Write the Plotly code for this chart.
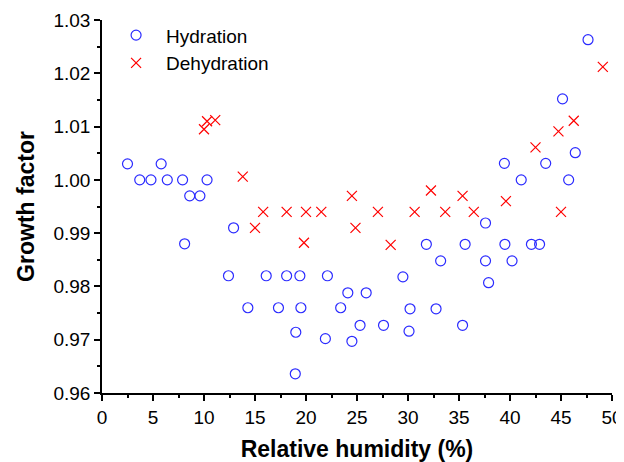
import plotly.graph_objects as go

# Hydration series
hyd_rh = [2.5, 3.7, 4.8, 5.8, 6.4, 7.9, 8.1, 8.6, 9.6, 10.3,
          12.4, 12.9, 14.3, 16.1, 17.3, 18.1, 18.95, 19.0, 19.4, 19.5,
          21.9, 22.1, 23.4, 24.1, 24.5, 25.3, 25.9, 27.6, 29.5, 30.1,
          30.2, 31.8, 32.75, 33.2, 35.35, 35.6, 37.6, 37.6, 37.9, 39.45,
          39.5, 40.2, 41.1, 42.1, 42.9, 43.5, 45.15, 45.75, 46.4, 47.65]
hyd_gf = [1.003, 1.000, 1.000, 1.003, 1.000, 1.000, 0.988, 0.997, 0.997, 1.000,
          0.982, 0.991, 0.976, 0.982, 0.976, 0.982, 0.9636, 0.9714, 0.982, 0.976,
          0.9702, 0.982, 0.976, 0.9788, 0.9697, 0.9727, 0.9788, 0.9727, 0.9818, 0.9716,
          0.9758, 0.9879, 0.9758, 0.9848, 0.9727, 0.9879, 0.9919, 0.9848, 0.9807, 1.0031,
          0.9879, 0.9848, 1.000, 0.9879, 0.9879, 1.0031, 1.0152, 1.000, 1.0051, 1.0263]

# Dehydration series
deh_rh = [10.0, 10.3, 11.1, 13.8, 15.0, 15.8, 18.1, 19.8, 20.0, 21.5,
          24.5, 24.85, 27.05, 28.3, 30.65, 32.25, 33.65, 35.35, 36.45, 39.6,
          42.5, 44.75, 45.0, 46.25, 49.1]
deh_gf = [1.0095, 1.011, 1.0112, 1.0006, 0.991, 0.994, 0.994, 0.9882, 0.994, 0.994,
          0.997, 0.991, 0.994, 0.9878, 0.994, 0.998, 0.994, 0.997, 0.994, 0.996,
          1.0061, 1.0091, 0.994, 1.0111, 1.0212]

x_ticks = [0, 5, 10, 15, 20, 25, 30, 35, 40, 45, 50]
y_ticks = [0.96, 0.97, 0.98, 0.99, 1.00, 1.01, 1.02, 1.03]
y_ticklabels = ["0.96", "0.97", "0.98", "0.99", "1.00", "1.01", "1.02", "1.03"]

FONT = "Liberation Sans, Arial, sans-serif"

fig = go.Figure()
fig.add_trace(go.Scatter(
    x=hyd_rh, y=hyd_gf, mode="markers", name="Hydration",
    marker=dict(symbol="circle-open", size=10, color="#2b2bff", line=dict(width=1.2, color="#2b2bff")),
))
fig.add_trace(go.Scatter(
    x=deh_rh, y=deh_gf, mode="markers", name="Dehydration",
    marker=dict(symbol="x-thin-open", size=10, color="#ff0000", line=dict(width=1.2, color="#ff0000")),
))

axis_common = dict(
    showgrid=False, zeroline=False, showline=True, linecolor="black", linewidth=1.5,
    ticks="outside", ticklen=6, tickwidth=1.5, tickcolor="black",
    tickfont=dict(family=FONT, size=19, color="black"),
    minor=dict(ticks="outside", ticklen=3.5, tickwidth=1.5, tickcolor="black"),
    automargin=False,
)

fig.update_xaxes(
    range=[0, 50], tickvals=x_ticks, ticktext=[str(v) for v in x_ticks],
    minor_dtick=2.5,
    title=dict(text="<b>Relative humidity (%)</b>", font=dict(family=FONT, size=23, color="black"), standoff=24),
    **axis_common,
)
fig.update_yaxes(
    range=[0.96, 1.03], tickvals=y_ticks, ticktext=y_ticklabels,
    minor_dtick=0.005,
    title=dict(text="<b>Growth factor</b>", font=dict(family=FONT, size=23, color="black"), standoff=12),
    **axis_common,
)

# page body has an 8px default margin; figure is sized/margined to compensate
fig.update_layout(
    width=616, height=454,
    margin=dict(l=94, r=12, t=12, b=69, autoexpand=False),
    paper_bgcolor="white", plot_bgcolor="white",
    showlegend=True,
    legend=dict(x=0.008, y=1.01, xanchor="left", yanchor="top",
                bgcolor="rgba(0,0,0,0)", font=dict(family=FONT, size=19, color="black"),
                itemwidth=50, tracegroupgap=0),
)

fig.write_html("out.html")
